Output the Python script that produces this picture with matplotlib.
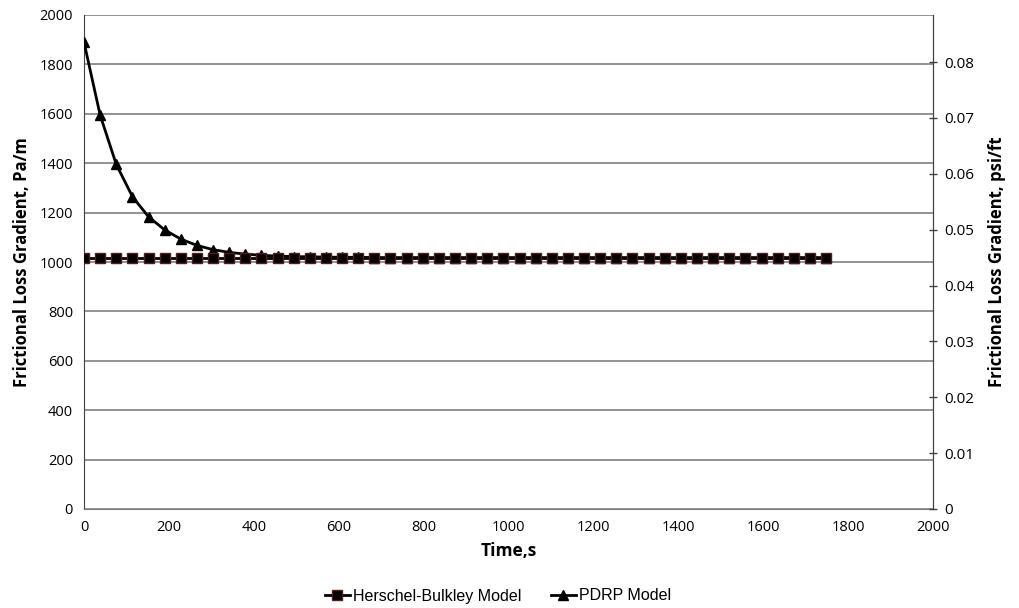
import numpy as np
import matplotlib.pyplot as plt

# time, s
time_s = [0, 38, 76, 114, 152, 190, 228, 266, 304, 342, 380, 418, 456, 494,
          532, 570, 608, 646, 684, 722, 760, 798, 836, 874, 912, 950, 988,
          1026, 1064, 1102, 1140, 1178, 1216, 1254, 1292, 1330, 1368, 1406,
          1444, 1482, 1520, 1558, 1596, 1634, 1672, 1710, 1748]

hb_model = [1018] * len(time_s)

pdrp_model = [1890, 1595, 1395, 1265, 1183, 1130, 1093, 1067, 1050, 1039,
              1032, 1027, 1024, 1022, 1021, 1020, 1019, 1019, 1018, 1018,
              1018, 1018, 1018, 1018, 1018, 1018, 1018, 1018, 1018, 1018,
              1018, 1018, 1018, 1018, 1018, 1018, 1018, 1018, 1018, 1018,
              1018, 1018, 1018, 1018, 1018, 1018, 1018]

PA_PER_PSIFT = 22620.6

plt.rcParams['font.family'] = ['Open Sans', 'DejaVu Sans']

fig = plt.figure(figsize=(10.19, 6.08), dpi=100)
ax = fig.add_axes([84 / 1019, 1 - 509 / 608, (933 - 84) / 1019, (509 - 15) / 608])

ax.plot(time_s, pdrp_model, color='black', lw=2, marker='^', ms=7.5,
        label='PDRP Model', zorder=3)
ax.plot(time_s, hb_model, color='black', lw=2, marker='s', ms=7.5,
        mfc='black', mec='#5a1a1a', label='Herschel-Bulkley Model', zorder=4)

ax.set_xlim(0, 2000)
ax.set_ylim(0, 2000)
ax.set_xticks(np.arange(0, 2001, 200))
ax.set_yticks(np.arange(0, 2001, 200))
ax.grid(axis='y', color='#808080', lw=1.2)
ax.set_axisbelow(True)
ax.tick_params(length=0, labelsize=10.5, pad=8)

ax.spines['top'].set_visible(False)
ax.spines['left'].set_color('#404040')
ax.spines['bottom'].set_color('#808080')
ax.spines['right'].set_color('#404040')

ax.set_xlabel('Time,s', fontsize=12.5, fontweight='bold', labelpad=5)
ax.set_ylabel('Frictional Loss Gradient, Pa/m', fontsize=12, fontweight='bold',
              labelpad=6)

ax2 = ax.twinx()
ax2.set_ylim(0, 2000 / PA_PER_PSIFT)
ax2.set_yticks(np.arange(0, 0.081, 0.01))
ax2.set_yticklabels(['0'] + ['%.2f' % v for v in np.arange(0.01, 0.081, 0.01)])
ax2.tick_params(length=6, width=1, direction='inout', color='#404040',
                labelsize=11, pad=5)
for s in ['top', 'left', 'bottom']:
    ax2.spines[s].set_visible(False)
ax2.spines['right'].set_color('#404040')
ax2.set_ylabel('Frictional Loss Gradient, psi/ft', fontsize=12,
               fontweight='bold', labelpad=10)

h, l = ax.get_legend_handles_labels()
fig.legend(h[::-1], l[::-1], loc='center', bbox_to_anchor=(498 / 1019, 1 - 596 / 608),
           ncol=2, frameon=False, prop={'family': 'Liberation Sans', 'size': 11.5},
           handlelength=1.6, handletextpad=0.2, columnspacing=1.8, markerscale=0.9)

plt.savefig('out.png', dpi=100)
